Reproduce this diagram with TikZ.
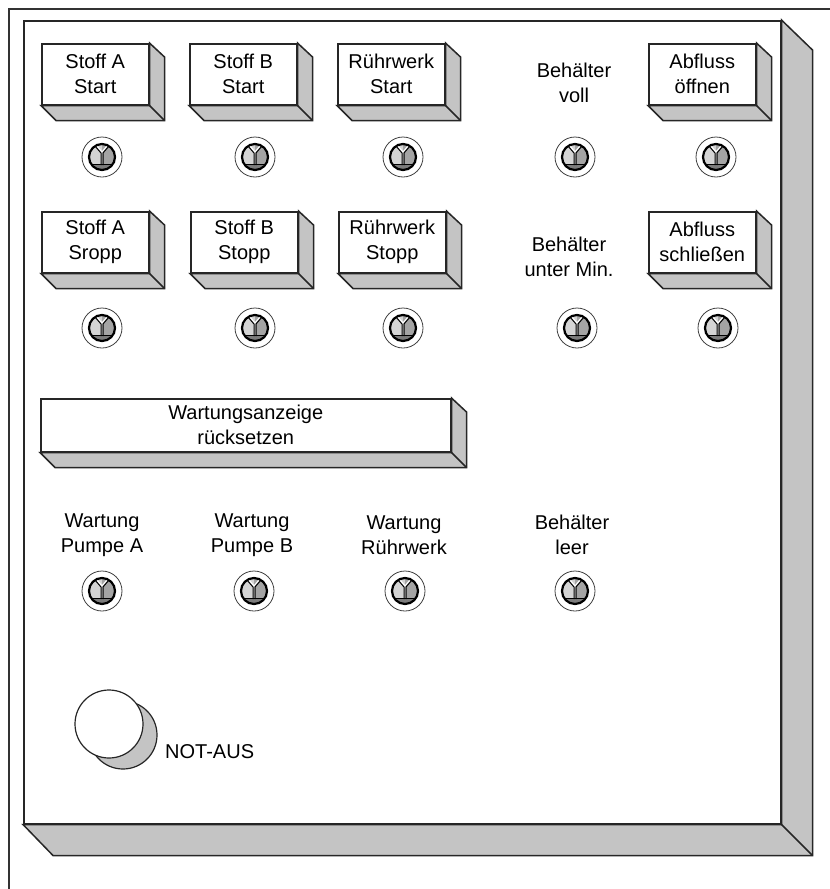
\documentclass[tikz,border=0pt]{standalone}
\usepackage{fontspec}
\setmainfont{Liberation Sans}
\usetikzlibrary{calc}
\definecolor{panelgray}{HTML}{C4C4C4}
\definecolor{lampL}{HTML}{D4D4D4}
\definecolor{lampR}{HTML}{A4A4A4}
\definecolor{lampD}{HTML}{7C7C7C}
\newcommand\lblfont{\fontsize{20}{25}\selectfont}
\newcommand\pbtn[6]{% name, x, y, width, height, text
  \node[front, minimum width=#4pt, minimum height=#5pt] (#1) at (#2,#3) {#6};
  \draw[shade] (#1.north east) -- ($(#1.north east)+(15,14)$) -- ($(#1.south east)+(15,15)$)
     -- ($(#1.south west)+(15,15)$) -- (#1.south west) -- (#1.south east) -- cycle;
  \draw[edge] (#1.south east) -- ($(#1.south east)+(15,15)$);
}
\begin{document}
\begin{tikzpicture}[x=1pt,y=-1pt,
  edge/.style={draw=black!85, line width=1.5pt, line join=miter},
  front/.style={edge, fill=white, inner sep=0pt, align=center, font=\lblfont, anchor=north west},
  shade/.style={edge, fill=panelgray},
  lbl/.style={font=\lblfont, align=center, inner sep=0pt},
  lamp/.pic={
    \draw[black!75, line width=0.8pt] (0,0) circle (20);
    \begin{scope}
      \clip (0,0) circle (13);
      \fill[lampL] (-14,-14) rectangle (14,14);
      \fill[lampR] (0,-14) rectangle (14,14);
      \fill[lampD] (-14,7) rectangle (14,14);
    \end{scope}
    \draw[white, line width=1.2pt] (-5,-11) -- (0,-5) -- (5,-11);
    \draw[black, line width=1pt] (-7,-11) -- (-1,-4) -- (-1,8);
    \draw[black, line width=1pt] (7,-11) -- (1,-4) -- (1,8);
    \draw[black, line width=0.8pt] (-11,7) -- (11,7);
    \draw[black, line width=2.2pt] (0,0) circle (13);
  }
]
\useasboundingbox (0,0) rectangle (830,889);
% outer frame
\draw[black!80, line width=1.3pt] (9,889) -- (9,9) -- (830,9);
% panel
\node[front, minimum width=757pt, minimum height=803pt] (panel) at (23,20) {};
\draw[shade] (panel.north east) -- ($(panel.north east)+(31,30)$) -- ($(panel.south east)+(31,31)$)
   -- ($(panel.south west)+(30,31)$) -- (panel.south west) -- (panel.south east) -- cycle;
\draw[edge] (panel.south east) -- ($(panel.south east)+(31,31)$);
% row 1 buttons
\pbtn{sas}{41}{43}{107}{61}{Stoff A\\Start}
\pbtn{sbs}{189}{43}{107}{61}{Stoff B\\Start}
\pbtn{rws}{337}{43}{107}{61}{Rührwerk\\Start}
\pbtn{abo}{648}{43}{107}{61}{Abfluss\\öffnen}
\node[lbl] (bvoll) at (574,83) {Behälter\\voll};
% row 1 lamps
\pic (l11) at (102,157) {lamp};
\pic (l12) at (255,157) {lamp};
\pic (l13) at (403,157) {lamp};
\pic (l14) at (575,157) {lamp};
\pic (l15) at (716,157) {lamp};
% row 2 buttons
\pbtn{sasp}{41}{211}{107}{61}{Stoff A\\Sropp}
\pbtn{sbsp}{190}{211}{107}{61}{Stoff B\\Stopp}
\pbtn{rwsp}{338}{211}{107}{61}{Rührwerk\\Stopp}
\pbtn{abs}{648}{211}{107}{61}{Abfluss\\schließen}
\node[lbl] (bmin) at (569,257) {Behälter\\unter Min.};
% row 2 lamps
\pic (l21) at (102,328) {lamp};
\pic (l22) at (255,328) {lamp};
\pic (l23) at (403,328) {lamp};
\pic (l24) at (577,328) {lamp};
\pic (l25) at (718,328) {lamp};
% maintenance reset
\pbtn{wrs}{40}{398}{410}{53}{\fontsize{20}{23}\selectfont Wartungsanzeige\\rücksetzen}
% row 3
\node[lbl] (wpa) at (102,535) {Wartung\\Pumpe A};
\node[lbl] (wpb) at (252,535) {Wartung\\Pumpe B};
\node[lbl] (wrw) at (404,535) {Wartung\\Rührwerk};
\node[lbl] (bleer) at (572,535) {Behälter\\leer};
\pic (l31) at (102,591) {lamp};
\pic (l32) at (254,591) {lamp};
\pic (l33) at (405,591) {lamp};
\pic (l34) at (575,591) {lamp};
% emergency stop
\node[circle, draw=black!85, line width=1.2pt, fill=panelgray, minimum size=68pt, inner sep=0pt] (notsh) at (123,735) {};
\node[circle, draw=black!85, line width=1.2pt, fill=white, minimum size=68pt, inner sep=0pt] (notaus) at (109,724) {};
\node[lbl, anchor=west] (notlbl) at (165,752) {NOT-AUS};
\end{tikzpicture}
\end{document}
